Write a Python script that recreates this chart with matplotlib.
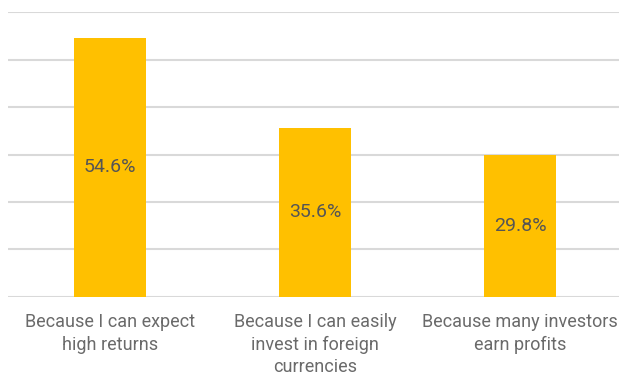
import matplotlib
matplotlib.use("Agg")
import matplotlib.pyplot as plt

# Survey results
reasons = [
    "Because I can expect\nhigh returns",
    "Because I can easily\ninvest in foreign\ncurrencies",
    "Because many investors\nearn profits",
]
shares = [54.6, 35.6, 29.8]
y_ticks = [0, 10, 20, 30, 40, 50, 60]

plt.rcParams["font.family"] = ["Roboto", "DejaVu Sans"]

fig = plt.figure(figsize=(6.19, 3.75), dpi=100)
ax = fig.add_axes([7.5 / 619, 0.2088, 615 / 619, 0.7584])

x = range(len(reasons))
bars = ax.bar(x, shares, width=0.351, color="#FFC000", zorder=3)

# value labels in the middle of each bar
for b, v in zip(bars, shares):
    ax.text(b.get_x() + b.get_width() / 2, v / 2, f"{v}%",
            ha="center", va="center", fontsize=14, color="#555555",
            zorder=4)

ax.set_xlim(-0.5, 2.5)
ax.set_ylim(0, 60)
ax.set_yticks(y_ticks)
ax.set_yticklabels([])
ax.yaxis.grid(True, color="#D9D9D9", linewidth=1.5, zorder=0)
ax.tick_params(axis="y", length=0)

ax.set_xticks(list(x))
ax.set_xticklabels(reasons, fontsize=13, color="#6a6a6a", linespacing=1.3)
ax.tick_params(axis="x", length=0, pad=12)

for s in ["top", "right", "left", "bottom"]:
    ax.spines[s].set_visible(False)

fig.savefig("out.png", dpi=100)
